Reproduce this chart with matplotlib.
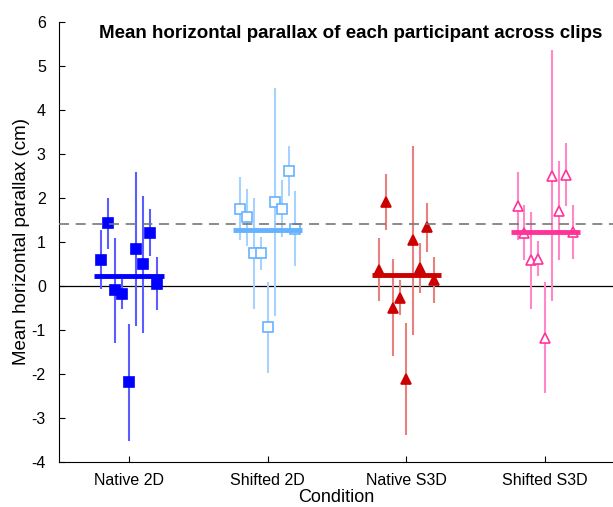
import numpy as np
from matplotlib import pyplot as plt

plt.rcParams['font.family'] = ['Liberation Sans', 'DejaVu Sans']
plt.rcParams['axes.unicode_minus'] = False

conditions = ['Native 2D', 'Shifted 2D', 'Native S3D', 'Shifted S3D']

# per-participant means (cm) and error bar half-widths
native_2d = [0.59, 1.41, -0.11, -0.20, -2.20, 0.83, 0.48, 1.20, 0.04]
native_2d_err = [0.68, 0.58, 1.20, 0.34, 1.33, 1.76, 1.56, 0.53, 0.60]

shifted_2d = [1.75, 1.55, 0.73, 0.73, -0.95, 1.90, 1.75, 2.60, 1.29]
shifted_2d_err = [0.72, 0.65, 1.26, 0.37, 1.03, 2.60, 0.65, 0.57, 0.85]

native_s3d = [0.36, 1.90, -0.50, -0.28, -2.13, 1.03, 0.40, 1.32, 0.12]
native_s3d_err = [0.72, 0.63, 1.10, 0.40, 1.27, 2.15, 0.56, 0.56, 0.52]

shifted_s3d = [1.80, 1.20, 0.57, 0.61, -1.19, 2.50, 1.70, 2.52, 1.21]
shifted_s3d_err = [0.77, 0.62, 1.11, 0.40, 1.26, 2.86, 1.12, 0.71, 0.61]

reference_level = 1.4

series = [
    (native_2d, native_2d_err, 's', '#0000ff', '#0000ff', '#5c5cff'),
    (shifted_2d, shifted_2d_err, 's', 'white', '#66b2ff', '#a6d2ff'),
    (native_s3d, native_s3d_err, '^', '#cc0000', '#cc0000', '#e88080'),
    (shifted_s3d, shifted_s3d_err, '^', 'white', '#ff3399', '#ff88c8'),
]

fig = plt.figure(figsize=(6.13, 5.07), dpi=100)
ax = fig.add_axes([59 / 613, 45.5 / 507, 554 / 613, 440 / 507])

ax.axhline(0, color='black', lw=0.9, zorder=1)
ax.axhline(reference_level, color='#777777', lw=1.2, ls=(0, (6, 4)), zorder=5)

offsets = (np.arange(9) - 4) * 0.05
for i, (vals, errs, mk, face, edge, ecol) in enumerate(series):
    x = i + 1 + offsets
    ax.errorbar(x, vals, yerr=errs, fmt='none', ecolor=ecol, elinewidth=1.5,
                capsize=0, zorder=2)
    ms = 7 if mk == 's' else 7.5
    ax.plot(x, vals, ls='none', marker=mk, markersize=ms, markerfacecolor=face,
            markeredgecolor=edge, markeredgewidth=1.2, zorder=3)
    ax.plot([i + 1 - 0.25, i + 1 + 0.25], [np.mean(vals)] * 2, color=edge,
            lw=3.5, zorder=4, solid_capstyle='butt')

ax.set_xlim(0.496, 4.488)
ax.set_ylim(-4, 6)
ax.set_xticks(range(1, 5))
ax.set_xticklabels(conditions)
ax.set_yticks(range(-4, 7))
ax.tick_params(direction='in', length=4, labelsize=11.5, width=0.8)
ax.tick_params(axis='y', pad=9.5)
ax.tick_params(axis='x', pad=8)
ax.spines['top'].set_visible(False)
ax.spines['right'].set_visible(False)
ax.set_xlabel('Condition', fontsize=13, labelpad=1)
ax.set_ylabel('Mean horizontal parallax (cm)', fontsize=13.5, labelpad=1)
ax.text(0.5 * (100 + 602) / 613, 1 - 33 / 507,
        'Mean horizontal parallax of each participant across clips',
        transform=fig.transFigure, ha='center', va='center',
        fontsize=13.5, fontweight='bold')

plt.savefig('out.png', dpi=100)
